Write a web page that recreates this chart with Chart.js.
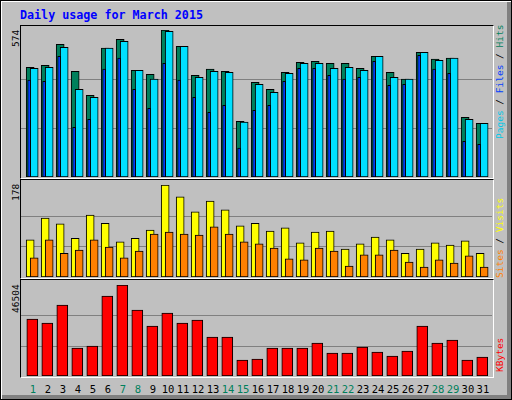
<!DOCTYPE html>
<html><head><meta charset="utf-8">
<script src="https://cdn.jsdelivr.net/npm/chart.js@4"></script>
<style>
html,body{margin:0;padding:0;background:#fff}
#wrap{position:relative;width:510px;height:398px;background:#C0C0C0;border:1px solid #000;box-shadow:inset 1px 1px 0 #fff, inset -4px -4px 0 #808080;overflow:hidden;font-family:"DejaVu Sans Mono",monospace}
.box{position:absolute;border-top:1px solid #000;border-left:1px solid #000;border-right:1px solid #fff;border-bottom:1px solid #fff;box-sizing:border-box}
canvas{position:absolute}
.rot{position:absolute;transform-origin:0 0;transform:rotate(-90deg);white-space:nowrap;font-size:9.5px;line-height:9px}
.day{position:absolute;top:382px;font-size:10.5px;transform:translateX(-50%)}
#title{position:absolute;left:19px;top:7px;color:#0000FF;font-weight:bold;font-size:11.7px}
</style></head><body>
<div id="wrap">
<div id="title">Daily usage for March 2015</div>
<div class="box" style="left:19px;top:24px;width:474px;height:154px"></div>
<div class="box" style="left:19px;top:178px;width:474px;height:100px"></div>
<div class="box" style="left:19px;top:278px;width:474px;height:99px"></div>
<canvas id="c1" style="left:20px;top:29px"></canvas>
<canvas id="c2" style="left:20px;top:184px"></canvas>
<canvas id="c3" style="left:20px;top:284px"></canvas>
<div class="rot" style="left:10px;top:46px">574</div>
<div class="rot" style="left:10px;top:200px">178</div>
<div class="rot" style="left:10px;top:312px">46504</div>
<div class="rot" style="left:494px;top:138px"><span style="color:#00C8E8">Pages</span> / <span style="color:#0040FF">Files</span> / <span style="color:#00805C">Hits</span></div>
<div class="rot" style="left:494px;top:277px"><span style="color:#FF8000">Sites</span> / <span style="color:#FFFF00">Visits</span></div>
<div class="rot" style="left:494px;top:371px"><span style="color:#FF0000">KBytes</span></div>
</div>
<script>
const days = Array.from({length:31},(_,i)=>i+1);
const weekendDays = [1,7,8,14,15,21,22,28,29];
const hits  = [428,436,518,413,319,503,538,417,401,574,510,397,421,413,217,370,342,409,448,452,444,444,424,471,409,382,487,460,464,233,210];
const pages = [424,428,506,342,311,503,530,417,382,569,510,389,413,409,214,362,331,405,444,444,424,428,417,471,389,382,487,456,464,225,210];
const files = [378,374,471,194,225,421,464,342,268,444,378,311,253,280,113,260,280,374,424,424,397,382,389,452,358,362,475,421,405,139,128];
const visits= [72,114,103,75,120,104,68,75,91,178,155,126,147,130,99,104,89,95,66,87,89,54,64,77,72,46,54,66,62,70,46];
const sites = [37,72,46,52,72,58,37,50,83,87,83,81,97,83,68,64,56,35,33,56,50,21,43,43,52,29,19,33,27,41,19];
const kbytes= [29125,27080,36280,14310,15330,40880,46504,33730,25550,32190,27080,28620,19930,19930,8175,8690,14310,14310,14310,16860,11750,11750,14820,12260,10220,12770,25550,16860,18390,8175,9710];

const gridPlugin = {id:'thirds',beforeDatasetsDraw(ch){
  const y=ch.scales.y, c=ch.ctx, a=ch.chartArea;
  c.save();c.strokeStyle='#808080';c.lineWidth=1;
  [y.max/3,2*y.max/3].forEach(v=>{const p=Math.round(y.getPixelForValue(v))+0.5;c.beginPath();c.moveTo(a.left,p);c.lineTo(a.right,p);c.stroke();});
  c.restore();}};

function ds(vals,off,thick,color){
  return {data:vals.map((v,i)=>({x:days[i]+off,y:v})),backgroundColor:color,borderColor:'#000',borderWidth:1,borderSkipped:false,barThickness:thick,grouped:false};
}
function make(id,max,datasets){
  const cv=document.getElementById(id);
  return new Chart(cv,{type:'bar',data:{datasets},
    options:{responsive:false,animation:false,devicePixelRatio:1,
      layout:{padding:0},
      plugins:{legend:{display:false},tooltip:{enabled:false}},
      scales:{x:{type:'linear',min:0.267,max:31.67,offset:false,display:false},
              y:{min:0,max:max,display:false}}},
    plugins:[gridPlugin]});
}
function size(id,w,h){const c=document.getElementById(id);c.width=w;c.height=h;c.style.width=w+'px';c.style.height=h+'px';}
size('c1',471,147);size('c2',471,92);size('c3',471,91);
make('c1',574,[ds(files,-0.19,3,'#0040FF'),ds(pages,0.147,8,'#00E0FF'),ds(hits,-0.12,8,'#00805C')]);
make('c2',178,[ds(sites,0.147,8,'#FF8000'),ds(visits,-0.12,8,'#FFFF00')]);
const c3=make('c3',46504,[ds(kbytes,0.02,11,'#FF0000')]);
const wrap=document.getElementById('wrap');
days.forEach(d=>{const e=document.createElement('div');e.className='day';e.textContent=d;
  e.style.left=(20+c3.scales.x.getPixelForValue(d)+1)+'px';
  e.style.color=weekendDays.includes(d)?'#00805C':'#000';wrap.appendChild(e);});
</script>
</body></html>
